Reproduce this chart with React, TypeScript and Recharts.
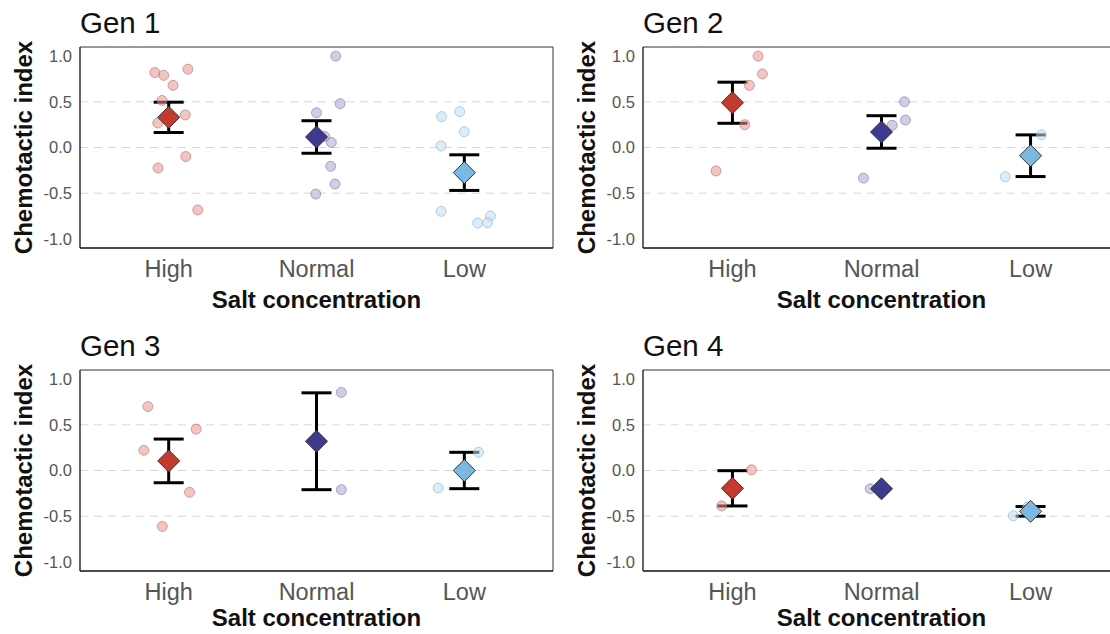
import { ScatterChart, Scatter, XAxis, YAxis, ReferenceLine, ErrorBar } from "recharts";

type Obs = { jitter: number; value: number };

const categories = ["High", "Normal", "Low"];
const yTicks = [-1, -0.5, 0, 0.5, 1];
const gridLines = [-0.5, 0, 0.5];

const gen1High: Obs[] = [
  { jitter: -0.094, value: 0.82 }, { jitter: -0.034, value: 0.79 }, { jitter: 0.029, value: 0.68 },
  { jitter: 0.13, value: 0.857 }, { jitter: -0.045, value: 0.515 }, { jitter: 0.112, value: 0.357 },
  { jitter: -0.074, value: 0.268 }, { jitter: 0.116, value: -0.099 }, { jitter: -0.072, value: -0.224 },
  { jitter: 0.197, value: -0.684 },
];
const gen1Normal: Obs[] = [
  { jitter: 0.13, value: 1.0 }, { jitter: 0.16, value: 0.48 }, { jitter: 0.0, value: 0.38 },
  { jitter: 0.056, value: 0.12 }, { jitter: 0.1, value: 0.055 }, { jitter: 0.096, value: -0.206 },
  { jitter: 0.125, value: -0.4 }, { jitter: -0.005, value: -0.51 },
];
const gen1Low: Obs[] = [
  { jitter: -0.154, value: 0.338 }, { jitter: -0.031, value: 0.393 }, { jitter: 0.0, value: 0.173 },
  { jitter: -0.157, value: 0.018 }, { jitter: -0.157, value: -0.699 }, { jitter: 0.177, value: -0.75 },
  { jitter: 0.09, value: -0.827 }, { jitter: 0.157, value: -0.824 },
];
const gen1Means = [0.33, 0.115, -0.275];
const gen1Errors = [0.166, 0.178, 0.195];

const gen2High: Obs[] = [
  { jitter: 0.172, value: 1.0 }, { jitter: 0.201, value: 0.805 }, { jitter: 0.114, value: 0.68 },
  { jitter: 0.083, value: 0.25 }, { jitter: -0.11, value: -0.257 },
];
const gen2Normal: Obs[] = [
  { jitter: 0.154, value: 0.5 }, { jitter: 0.161, value: 0.3 }, { jitter: 0.072, value: 0.243 },
  { jitter: -0.121, value: -0.335 },
];
const gen2Low: Obs[] = [
  { jitter: 0.072, value: 0.14 }, { jitter: -0.17, value: -0.32 },
];
const gen2Means = [0.49, 0.17, -0.09];
const gen2Errors = [0.225, 0.178, 0.228];

const gen3High: Obs[] = [
  { jitter: -0.141, value: 0.7 }, { jitter: 0.186, value: 0.453 }, { jitter: -0.168, value: 0.221 },
  { jitter: 0.141, value: -0.239 }, { jitter: -0.043, value: -0.612 },
];
const gen3Normal: Obs[] = [
  { jitter: 0.168, value: 0.855 }, { jitter: 0.168, value: -0.21 },
];
const gen3Low: Obs[] = [
  { jitter: 0.096, value: 0.199 }, { jitter: -0.177, value: -0.192 },
];
const gen3Means = [0.105, 0.32, 0.0];
const gen3Errors = [0.239, 0.53, 0.199];

const gen4High: Obs[] = [
  { jitter: 0.128, value: 0.007 }, { jitter: -0.072, value: -0.387 },
];
const gen4Normal: Obs[] = [{ jitter: -0.076, value: -0.2 }];
const gen4Low: Obs[] = [
  { jitter: -0.116, value: -0.496 }, { jitter: -0.02, value: -0.4 },
];
const gen4Means = [-0.195, -0.2, -0.447];
const gen4Errors = [0.193, 0, 0.053];

const pointFill = ["#e8968f", "#a9a4cf", "#bfdef4"];
const pointStroke = ["#b5706b", "#7d79a8", "#8fb3cc"];
const meanFill = ["#c23b2e", "#3d3a8f", "#7bb9e3"];

const font = "'Liberation Sans', Arial, sans-serif";

type PanelProps = {
  title: string;
  groups: Obs[][];
  means: number[];
  errors: number[];
  left: number;
  top: number;
  width: number;
  height: number;
  labelOffset: number;
};

function Panel({ title, groups, means, errors, left, top, width, height, labelOffset }: PanelProps) {
  const meanData = means.map((m, i) => ({ x: i + 1, y: m, err: errors[i] }));
  const barData = meanData.filter((d) => d.err > 0);
  // plot area is always 201px tall starting 47px from the top
  const axisHeight = height - 47 - 201;

  return (
    <div style={{ position: "absolute", left, top }}>
      <ScatterChart width={width} height={height} margin={{ top: 47, right: 7, bottom: 0, left: 0 }}>
        <text x={80} y={33} fontSize={29.5} fontFamily={font} fill="#111">
          {title}
        </text>
        <XAxis
          type="number"
          dataKey="x"
          domain={[0.4, 3.6]}
          ticks={[1, 2, 3]}
          allowDataOverflow
          tickFormatter={(v: number) => categories[v - 1]}
          tickLine={false}
          tickSize={0}
          tickMargin={12}
          height={axisHeight}
          axisLine={{ stroke: "#111", strokeWidth: 1.3 }}
          tick={{ fontSize: 23.5, fill: "#555", fontFamily: font }}
          label={{
            value: "Salt concentration",
            position: "insideBottom",
            offset: labelOffset,
            style: { fontSize: 24, fontWeight: "bold", fill: "#111", fontFamily: font },
          }}
        />
        <YAxis
          type="number"
          dataKey="y"
          domain={[-1.1, 1.1]}
          ticks={yTicks}
          allowDataOverflow
          tickFormatter={(v: number) => v.toFixed(1)}
          tickLine={false}
          tickSize={0}
          tickMargin={8}
          width={80}
          axisLine={{ stroke: "#111", strokeWidth: 1.3 }}
          tick={{ fontSize: 16.5, fill: "#555", fontFamily: font }}
          label={{
            value: "Chemotactic index",
            angle: -90,
            position: "insideLeft",
            offset: 23,
            style: { fontSize: 24, fontWeight: "bold", fill: "#111", fontFamily: font, textAnchor: "middle" },
          }}
        />
        {gridLines.map((g) => (
          <ReferenceLine key={g} y={g} stroke="#d8d8d8" strokeDasharray="8 6" />
        ))}
        <ReferenceLine y={1.1} stroke="#333" strokeWidth={1} />
        <ReferenceLine x={3.6} stroke="#333" strokeWidth={1} />
        {groups.map((obs, i) => (
          <Scatter
            key={categories[i]}
            data={obs.map((o) => ({ x: i + 1 + o.jitter, y: o.value }))}
            isAnimationActive={false}
            shape={(p: any) => (
              <circle
                cx={p.cx}
                cy={p.cy}
                r={5}
                fill={pointFill[i]}
                fillOpacity={0.55}
                stroke={pointStroke[i]}
                strokeOpacity={0.6}
                strokeWidth={1}
              />
            )}
          />
        ))}
        <Scatter
          data={meanData}
          isAnimationActive={false}
          shape={(p: any) => (
            <polygon
              points={`${p.cx},${p.cy - 11} ${p.cx + 11},${p.cy} ${p.cx},${p.cy + 11} ${p.cx - 11},${p.cy}`}
              fill={meanFill[p.x - 1] ?? meanFill[p.payload?.x - 1]}
              stroke="#333"
              strokeWidth={1}
            />
          )}
        />
        <Scatter data={barData} isAnimationActive={false} shape={() => <g />}>
          <ErrorBar dataKey="err" direction="y" width={15} stroke="#000" strokeWidth={3} />
        </Scatter>
      </ScatterChart>
    </div>
  );
}

export default function App() {
  return (
    <div
      style={{
        position: "absolute",
        left: 0,
        top: 0,
        width: 1110,
        height: 634,
        overflow: "hidden",
        background: "#fff",
      }}
    >
      <Panel title="Gen 1" groups={[gen1High, gen1Normal, gen1Low]} means={gen1Means} errors={gen1Errors} left={0} top={0} width={560} height={320} labelOffset={12} />
      <Panel title="Gen 2" groups={[gen2High, gen2Normal, gen2Low]} means={gen2Means} errors={gen2Errors} left={563} top={0} width={564} height={320} labelOffset={12} />
      <Panel title="Gen 3" groups={[gen3High, gen3Normal, gen3Low]} means={gen3Means} errors={gen3Errors} left={0} top={323} width={560} height={311} labelOffset={8} />
      <Panel title="Gen 4" groups={[gen4High, gen4Normal, gen4Low]} means={gen4Means} errors={gen4Errors} left={563} top={323} width={564} height={311} labelOffset={8} />
    </div>
  );
}
